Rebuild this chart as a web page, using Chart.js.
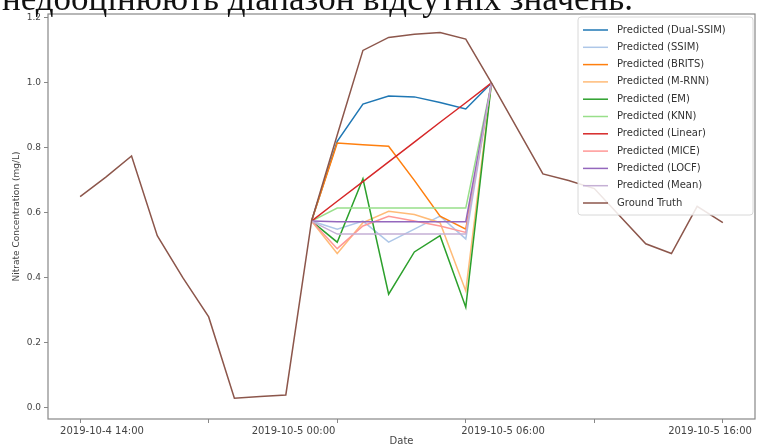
<!DOCTYPE html>
<html>
<head>
<meta charset="utf-8">
<script src="https://cdn.jsdelivr.net/npm/chart.js@4/dist/chart.umd.min.js"></script>
<style>
	html, body { margin: 0; padding: 0; background: #fff; }
	#wrap { position: relative; width: 758px; height: 444px; overflow: hidden; }
	#chart { position: absolute; left: 0; top: 0; }
	#caption {
		position: absolute; left: 2px; top: -19px;
		font: 35px 'Liberation Serif', 'DejaVu Serif', serif; line-height: 35px;
		white-space: nowrap; color: #111;
	}
</style>
</head>
<body>
<div id="wrap">
	<canvas id="chart" width="758" height="452"></canvas>
	<div id="caption">недооцінюють діапазон відсутніх значень.</div>
</div>
<script>
// hourly samples, 2019-10-4 14:00 .. 2019-10-5 15:00
const groundTruth = [
	0.65, 0.71, 0.775, 0.53, 0.40, 0.28, 0.03, 0.035, 0.04, 0.575,
	0.84, 1.10, 1.14, 1.15, 1.155, 1.135, 1.0, 0.86, 0.72, 0.70,
	0.675, 0.59, 0.505, 0.475, 0.62, 0.57,
]

// missing window, index 9 .. 16
const gapStart = 9
const dualSsim = [0.575, 0.82, 0.935, 0.96, 0.957, 0.94, 0.92, 1.0]
const ssim = [0.575, 0.55, 0.575, 0.51, 0.55, 0.59, 0.52, 1.0]
const brits = [0.575, 0.815, 0.81, 0.805, 0.70, 0.59, 0.55, 1.0]
const mrnn = [0.575, 0.475, 0.57, 0.605, 0.595, 0.57, 0.36, 1.0]
const em = [0.575, 0.51, 0.705, 0.35, 0.48, 0.53, 0.31, 1.0]
const knn = [0.575, 0.615, 0.615, 0.615, 0.615, 0.615, 0.615, 1.0]
const linear = [0.575, 0.636, 0.696, 0.757, 0.818, 0.879, 0.939, 1.0]
const mice = [0.575, 0.49, 0.56, 0.59, 0.575, 0.56, 0.54, 1.0]
const locf = [0.575, 0.573, 0.573, 0.573, 0.573, 0.573, 0.573, 1.0]
const mean = [0.575, 0.535, 0.535, 0.535, 0.535, 0.535, 0.535, 1.0]

const xTickLabels = ['2019-10-4 14:00', '2019-10-5 00:00', '2019-10-5 06:00', '2019-10-5 16:00']
const xTickAt = [0.85, 8.3, 16.45, 24.5]
const xMinorTicks = [0, 5, 10, 15, 20, 25]
const yTicks = [0, 0.2, 0.4, 0.6, 0.8, 1.0, 1.2]

const series = [
	['Predicted (Dual-SSIM)', dualSsim, '#1f77b4'],
	['Predicted (SSIM)', ssim, '#aec7e8'],
	['Predicted (BRITS)', brits, '#ff7f0e'],
	['Predicted (M-RNN)', mrnn, '#ffbb78'],
	['Predicted (EM)', em, '#2ca02c'],
	['Predicted (KNN)', knn, '#98df8a'],
	['Predicted (Linear)', linear, '#d62728'],
	['Predicted (MICE)', mice, '#ff9896'],
	['Predicted (LOCF)', locf, '#9467bd'],
	['Predicted (Mean)', mean, '#c5b0d5'],
]

const toPoints = (values, start) => values.map((y, i) => ({ x: start + i, y }))

const datasets = series.map(([label, values, color], i) => ({
	label,
	data: toPoints(values, gapStart),
	borderColor: color,
	backgroundColor: color,
	borderWidth: 1.5,
	pointRadius: 0,
	order: series.length - i,
}))
datasets.push({
	label: 'Ground Truth',
	data: toPoints(groundTruth, 0),
	borderColor: '#8c564b',
	backgroundColor: '#8c564b',
	borderWidth: 1.5,
	pointRadius: 0,
	order: 0,
})

const axisColor = '#888'
const tickFont = { family: 'DejaVu Sans', size: 10 }

// matplotlib-like frame and legend inside the axes
const framePlugin = {
	id: 'frame',
	afterDatasetsDraw(chart) {
		const { ctx, chartArea: a } = chart
		ctx.save()
		ctx.strokeStyle = axisColor
		ctx.lineWidth = 1.2
		ctx.strokeRect(a.left, a.top, a.right - a.left, a.bottom - a.top)

		const boxX = 578
		const boxY = 17
		ctx.fillStyle = 'rgba(255,255,255,0.85)'
		ctx.strokeStyle = '#d8d8d8'
		ctx.lineWidth = 1
		ctx.beginPath()
		ctx.roundRect(boxX, boxY, 175, 198, 3)
		ctx.fill()
		ctx.stroke()

		ctx.font = '10px "DejaVu Sans"'
		ctx.textBaseline = 'middle'
		chart.data.datasets.forEach((ds, i) => {
			const y = 30 + i * 17.3
			ctx.strokeStyle = ds.borderColor
			ctx.lineWidth = 1.5
			ctx.beginPath()
			ctx.moveTo(583, y)
			ctx.lineTo(608, y)
			ctx.stroke()
			ctx.fillStyle = '#333'
			ctx.fillText(ds.label, 617, y)
		})
		ctx.restore()
	},
}

const context = document.getElementById('chart').getContext('2d')
const chart = new Chart(context, {
	type: 'line',
	data: { datasets },
	options: {
		responsive: false,
		animation: false,
		devicePixelRatio: 1,
		layout: { padding: { left: 0, right: 3, top: 14, bottom: 0 } },
		plugins: { legend: { display: false }, tooltip: { enabled: false } },
		scales: {
			x: {
				type: 'linear',
				min: -1.25,
				max: 26.25,
				border: { display: false },
				grid: {
					drawOnChartArea: false,
					tickLength: 4,
					tickColor: (c) => (c.tick && c.tick.label ? 'rgba(0,0,0,0)' : axisColor),
				},
				afterBuildTicks: (scale) => {
					const ticks = xMinorTicks.map((value) => ({ value }))
						.concat(xTickAt.map((value) => ({ value })))
					scale.ticks = ticks.sort((a, b) => a.value - b.value)
				},
				afterFit: (scale) => {
					scale.height = 452 - 419
				},
				ticks: {
					autoSkip: false,
					maxRotation: 0,
					padding: 2,
					color: '#444',
					font: tickFont,
					callback: (value) => {
						const k = xTickAt.indexOf(value)
						return k >= 0 ? xTickLabels[k] : ''
					},
				},
				title: {
					display: true,
					text: 'Date',
					color: '#444',
					font: tickFont,
					padding: { top: 0, bottom: 5 },
				},
			},
			y: {
				min: -0.034,
				max: 1.212,
				border: { display: false },
				grid: { drawOnChartArea: false, tickLength: 4, tickColor: axisColor },
				afterBuildTicks: (scale) => {
					scale.ticks = yTicks.map((value) => ({ value }))
				},
				afterFit: (scale) => {
					scale.width = 48
				},
				ticks: {
					padding: 3,
					color: '#444',
					font: { family: 'DejaVu Sans', size: 9 },
					callback: (value) => value.toFixed(1),
				},
				title: {
					display: true,
					text: 'Nitrate Concentration (mg/L)',
					color: '#444',
					font: { family: 'DejaVu Sans', size: 9 },
					padding: { top: 11, bottom: 0 },
				},
			},
		},
	},
	plugins: [framePlugin],
})
</script>
</body>
</html>
